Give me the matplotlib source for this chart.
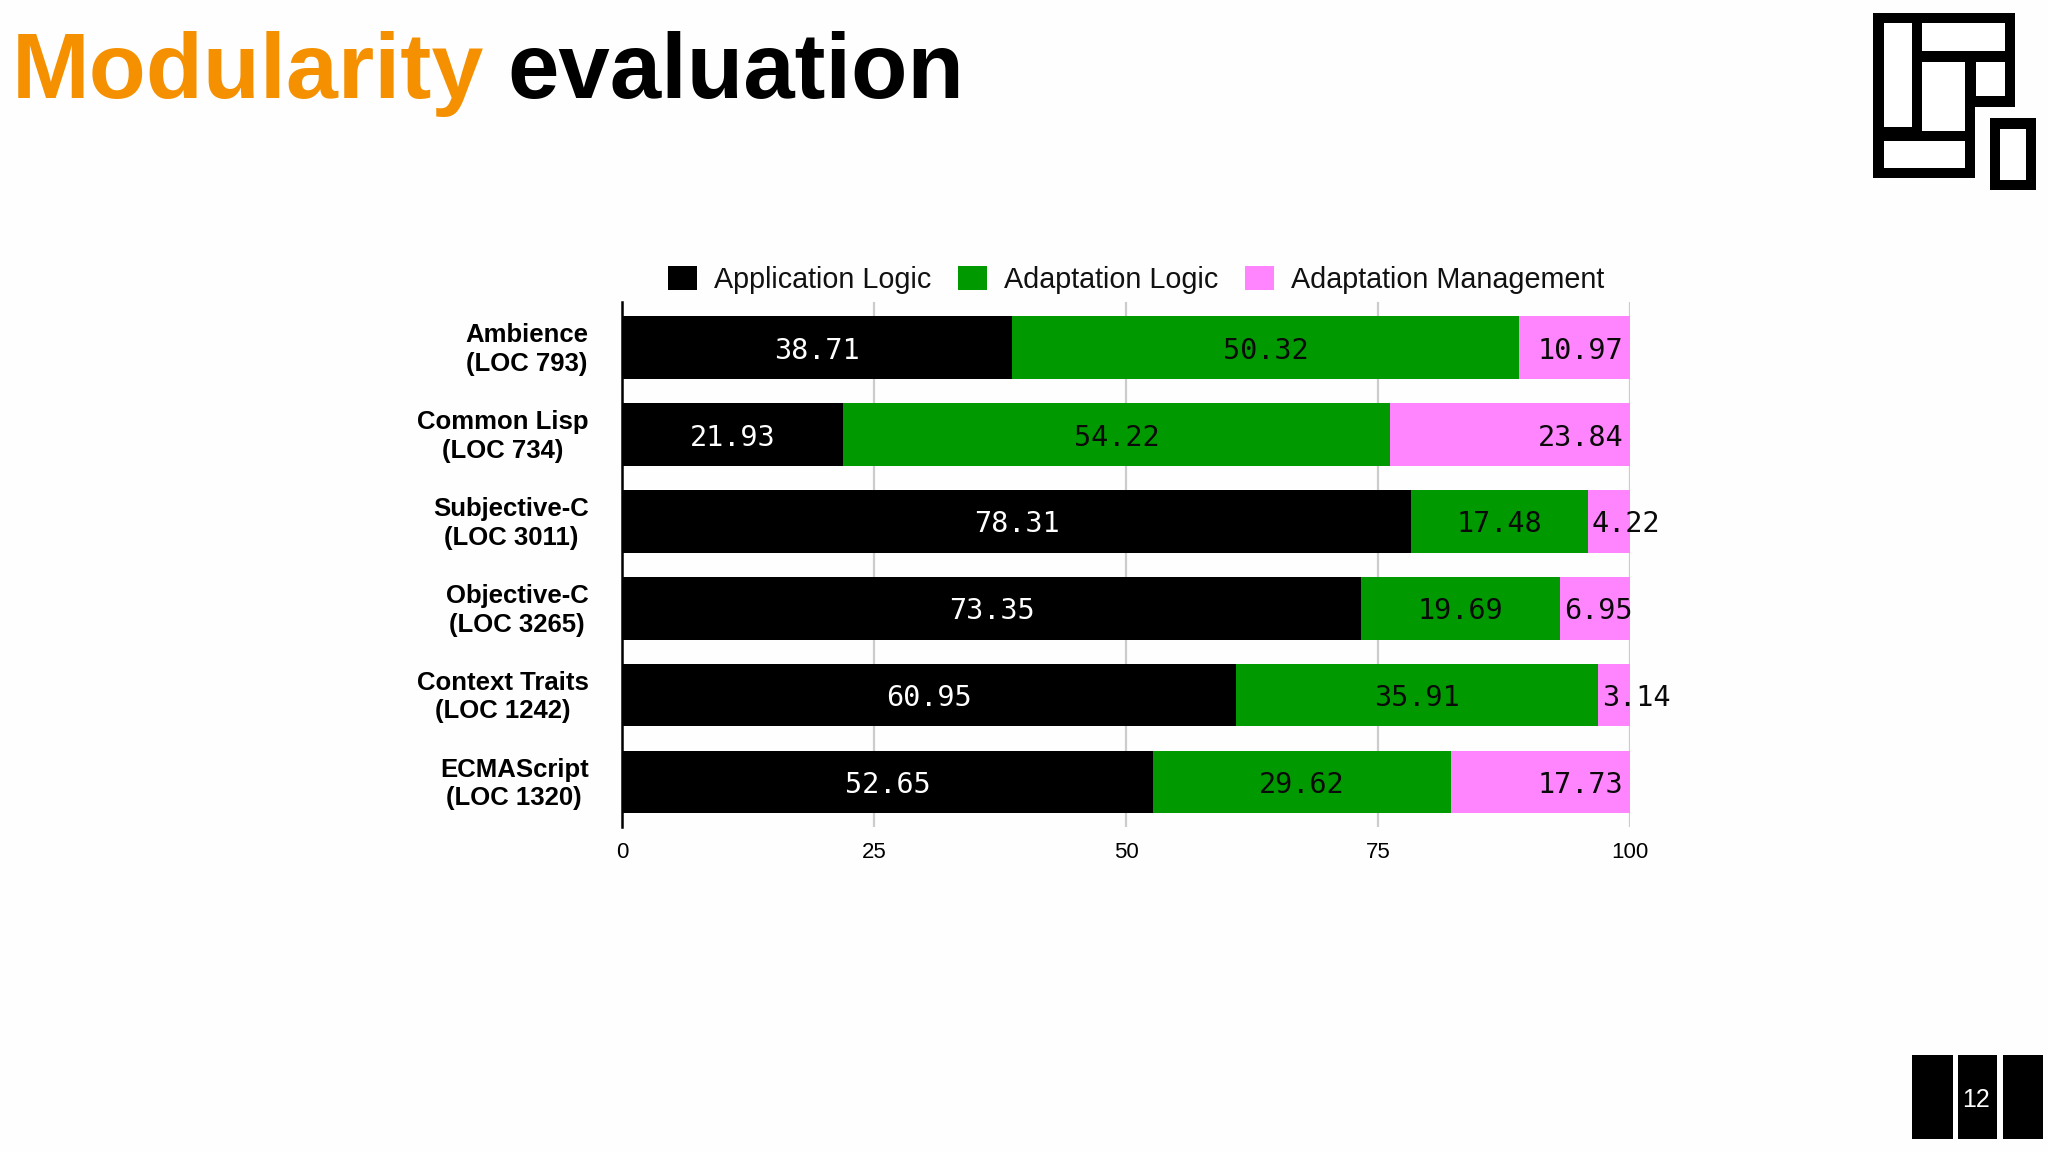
import matplotlib
matplotlib.use('Agg')
import matplotlib.pyplot as plt
from matplotlib.patches import Rectangle
from matplotlib.transforms import ScaledTranslation

categories = ['Ambience\n(LOC 793)', 'Common Lisp\n(LOC 734)', 'Subjective-C\n(LOC 3011)',
              'Objective-C\n(LOC 3265)', 'Context Traits\n(LOC 1242)', 'ECMAScript\n(LOC 1320)']
app_logic = [38.71, 21.93, 78.31, 73.35, 60.95, 52.65]
adapt_logic = [50.32, 54.22, 17.48, 19.69, 35.91, 29.62]
adapt_mgmt = [10.97, 23.84, 4.22, 6.95, 3.14, 17.73]
x_ticks = [0, 25, 50, 75, 100]

BLACK = '#000000'
GREEN = '#009900'
PINK = '#FF85FF'
ORANGE = '#F59100'
W, H = 2048, 1152

plt.rcParams['font.family'] = ['Liberation Sans', 'DejaVu Sans']
fig = plt.figure(figsize=(W / 100, H / 100), dpi=100, facecolor='#FEFEFE')

# page furniture, in pixel coordinates
page = fig.add_axes([0, 0, 1, 1])
page.set_xlim(0, W)
page.set_ylim(H, 0)
page.axis('off')

def box(x0, y0, x1, y1, color):
    page.add_patch(Rectangle((x0, y0), x1 - x0, y1 - y0, color=color, lw=0))

page.text(12, 98, 'Modularity', color=ORANGE, fontsize=67.2, fontweight='bold', va='baseline')
page.text(507, 98, 'evaluation', color='black', fontsize=66.5, fontweight='bold', va='baseline')

# logo
box(1873, 13, 2015, 107, BLACK)
box(1873, 107, 1975, 178, BLACK)
for x0, y0, x1, y1 in [(1884, 23, 1912, 127), (1922, 23, 2005, 51), (1922, 62, 1965, 131),
                       (1976, 62, 2005, 96), (1884, 141, 1965, 168)]:
    box(x0, y0, x1, y1, 'white')
box(1990, 118, 2036, 190, BLACK)
box(2000, 129, 2026, 180, 'white')

# footer
box(1912, 1055, 1953, 1139, BLACK)
box(1958, 1055, 1997, 1139, BLACK)
box(2003, 1055, 2043, 1139, BLACK)
page.text(1976, 1100, '12', color='white', fontsize=18, ha='center', va='center')

# chart
ax = fig.add_axes([622 / W, 1 - 827 / H, (1630 - 622) / W, (827 - 302) / H])
ax.patch.set_alpha(0)
y = list(range(len(categories)))
left2 = [a for a in app_logic]
left3 = [a + b for a, b in zip(app_logic, adapt_logic)]
ax.barh(y, app_logic, height=0.72, color=BLACK, label='Application Logic', zorder=3)
ax.barh(y, adapt_logic, left=left2, height=0.72, color=GREEN, label='Adaptation Logic', zorder=3)
ax.barh(y, adapt_mgmt, left=left3, height=0.72, color=PINK, label='Adaptation Management', zorder=3)

ax.set_xlim(0, 100)
ax.set_ylim(5.517, -0.525)
ax.set_xticks(x_ticks)
ax.set_yticks(y)
ax.set_yticklabels(categories, fontsize=18.5, fontweight='bold', ma='center', linespacing=1.25)
ax.tick_params(axis='y', length=0, pad=24)
ax.tick_params(axis='x', length=0, labelsize=16, pad=11)
shift = ScaledTranslation(0, 3 / 100, fig.dpi_scale_trans)
for t in ax.get_yticklabels():
    t.set_transform(t.get_transform() + shift)
ax.grid(axis='x', color='#CCCCCC', lw=1.6, zorder=1)
for s in ['top', 'right', 'bottom']:
    ax.spines[s].set_visible(False)
ax.spines['left'].set_linewidth(1.8)
ax.spines['left'].set_zorder(4)

mono = dict(family='DejaVu Sans Mono', fontsize=20.5, va='center_baseline', zorder=5)
for i in y:
    ax.text(app_logic[i] / 2, i, f'{app_logic[i]:.2f}', color='white', ha='center', **mono)
    ax.text(left2[i] + adapt_logic[i] / 2, i, f'{adapt_logic[i]:.2f}', color='#0A0A0A', ha='center', **mono)
    if adapt_mgmt[i] >= 10:
        ax.annotate(f'{adapt_mgmt[i]:.2f}', (100, i), xytext=(-5, 0), textcoords='offset points',
                    color='#0A0A0A', ha='right', annotation_clip=False, **mono)
    else:
        ax.annotate(f'{adapt_mgmt[i]:.2f}', (left3[i], i), xytext=(3, 0), textcoords='offset points',
                    color='#0A0A0A', ha='left', annotation_clip=False, **mono)

fig.legend(loc='center', bbox_to_anchor=(1136 / W, 1 - 280 / H), ncol=3, frameon=False, fontsize=20.7,
           handlelength=1.0, handleheight=0.9, handletextpad=0.58, columnspacing=0.95,
           borderpad=0, labelcolor='#111111')

fig.savefig('out.png', dpi=100, facecolor=fig.get_facecolor())
